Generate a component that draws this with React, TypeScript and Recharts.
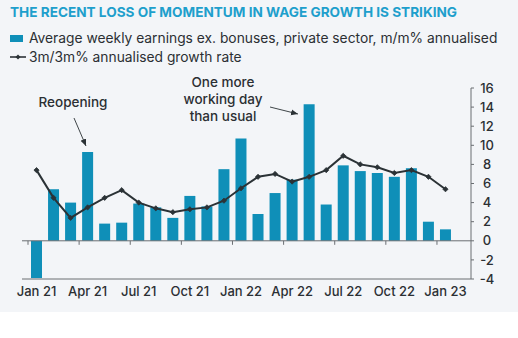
import { ComposedChart, Bar, Line, XAxis, YAxis, ReferenceLine } from 'recharts'

const MONTHS = [
  'Jan 21', 'Feb 21', 'Mar 21', 'Apr 21', 'May 21', 'Jun 21', 'Jul 21', 'Aug 21', 'Sep 21',
  'Oct 21', 'Nov 21', 'Dec 21', 'Jan 22', 'Feb 22', 'Mar 22', 'Apr 22', 'May 22', 'Jun 22',
  'Jul 22', 'Aug 22', 'Sep 22', 'Oct 22', 'Nov 22', 'Dec 22', 'Jan 23',
]
const MOM_ANNUALISED = [
  -3.9, 5.4, 4.0, 9.3, 1.8, 1.9, 3.9, 3.5, 2.4, 4.7, 3.6, 7.5, 10.7, 2.8, 5.0, 6.4, 14.3,
  3.8, 7.9, 7.3, 7.1, 6.7, 7.6, 2.0, 1.2,
]
const THREE_M_GROWTH = [
  7.4, 4.5, 2.4, 3.5, 4.5, 5.3, 4.0, 3.4, 3.0, 3.3, 3.5, 4.2, 5.5, 6.7, 7.0, 6.2, 6.7, 7.4,
  8.9, 8.0, 7.7, 7.1, 7.4, 6.7, 5.4,
]
const Y_TICKS = [-4, -2, 0, 2, 4, 6, 8, 10, 12, 14, 16]

const BAR_COLOR = '#0f8fb8'
const LINE_COLOR = '#2b3236'
const AXIS_COLOR = '#6a6e72'
const TEXT_COLOR = '#2b2f33'
const FONT = 'Inter, "Open Sans", sans-serif'

// plot geometry
const W = 518
const H = 310
const M = { top: 88, right: 10, bottom: 11, left: 22 }
const Y_AXIS_W = 37
const X_AXIS_H = 20
const PAD_L = 6
const PAD_R = 17
const plotTop = M.top
const plotBottom = H - M.bottom - X_AXIS_H
const plotW = W - M.left - M.right - Y_AXIS_W
const step = (plotW - PAD_L - PAD_R) / MONTHS.length
const zeroY = plotTop + (16 / 20) * (plotBottom - plotTop)

const data = MONTHS.map((m, i) => ({ m, bar: MOM_ANNUALISED[i], line: THREE_M_GROWTH[i] }))

function XTick({ x, y, payload }: any) {
  const bx = x - step / 2
  return (
    <g>
      <line x1={bx} x2={bx} y1={zeroY} y2={zeroY + 4} stroke={AXIS_COLOR} />
      <text x={x} y={y} dy="0.71em" textAnchor="middle" fontSize={13} fontWeight={500} fill={TEXT_COLOR} fontFamily={FONT}>
        {payload.value}
      </text>
    </g>
  )
}

function YTick({ x, y, payload }: any) {
  return (
    <text x={x + 11} y={y} dy="0.36em" textAnchor="middle" fontSize={13} fontWeight={500} fill={TEXT_COLOR} fontFamily={FONT}>
      {payload.value}
    </text>
  )
}

function Diamond({ cx, cy }: any) {
  if (cx == null || cy == null) return null
  const r = 2.6
  return (
    <polygon
      points={`${cx},${cy - r} ${cx + r},${cy} ${cx},${cy + r} ${cx - r},${cy}`}
      fill={LINE_COLOR}
      stroke={LINE_COLOR}
      strokeWidth={0.8}
    />
  )
}

export default function App() {
  return (
    <div style={{ position: 'absolute', left: 0, top: 0, width: W, height: 338, background: '#fff', fontFamily: FONT }}>
      <div style={{ position: 'absolute', left: 0, top: 0, width: W, height: 312, background: '#f3f5f8' }} />
      <div style={{ position: 'absolute', left: 10, top: 4, fontSize: 13.6, fontWeight: 700, color: '#1e9fcc', whiteSpace: 'nowrap' }}>
        THE RECENT LOSS OF MOMENTUM IN WAGE GROWTH IS STRIKING
      </div>
      <div style={{ position: 'absolute', left: 10, top: 30, fontSize: 13.8, color: TEXT_COLOR, whiteSpace: 'nowrap', display: 'flex', alignItems: 'center' }}>
        <span style={{ display: 'inline-block', width: 13, height: 7, background: BAR_COLOR, marginRight: 6 }} />
        Average weekly earnings ex. bonuses, private sector, m/m% annualised
      </div>
      <div style={{ position: 'absolute', left: 10, top: 49, fontSize: 13.8, color: TEXT_COLOR, whiteSpace: 'nowrap', display: 'flex', alignItems: 'center' }}>
        <svg width={16} height={8} style={{ marginRight: 3 }}>
          <line x1={0} x2={16} y1={4} y2={4} stroke={LINE_COLOR} strokeWidth={1.6} />
          <polygon points="8,1.5 10.5,4 8,6.5 5.5,4" fill={LINE_COLOR} />
        </svg>
        3m/3m% annualised growth rate
      </div>
      <div style={{ position: 'absolute', left: 0, top: 0 }}>
        <ComposedChart width={W} height={H} data={data} margin={M}>
          <XAxis
            dataKey="m"
            interval={2}
            padding={{ left: PAD_L, right: PAD_R }}
            height={X_AXIS_H}
            axisLine={{ stroke: AXIS_COLOR }}
            tickLine={false}
            tick={<XTick />}
          />
          <YAxis
            orientation="right"
            width={Y_AXIS_W}
            domain={[-4, 16]}
            ticks={Y_TICKS}
            interval={0}
            tickSize={3}
            axisLine={{ stroke: AXIS_COLOR }}
            tickLine={{ stroke: AXIS_COLOR }}
            tick={<YTick />}
          />
          <Bar dataKey="bar" fill={BAR_COLOR} barSize={11} isAnimationActive={false} />
          <ReferenceLine y={0} stroke={AXIS_COLOR} />
          <Line
            dataKey="line"
            type="linear"
            stroke={LINE_COLOR}
            strokeWidth={2}
            dot={<Diamond />}
            activeDot={false}
            isAnimationActive={false}
          />
        </ComposedChart>
      </div>
      <svg width={W} height={H} style={{ position: 'absolute', left: 0, top: 0, pointerEvents: 'none' }}>
        <defs>
          <marker id="ah" markerWidth="8" markerHeight="8" refX="7" refY="4" orient="auto" markerUnits="userSpaceOnUse">
            <path d="M0,1 L7,4 L0,7 Z" fill={LINE_COLOR} />
          </marker>
        </defs>
        <g fontFamily={FONT} fontSize={13.5} fontWeight={500} fill={TEXT_COLOR} textAnchor="middle">
          <text x={73} y={107}>Reopening</text>
          <text x={223} y={87}>One more</text>
          <text x={223} y={104}>working day</text>
          <text x={223} y={121}>than usual</text>
        </g>
        <line x1={74} y1={118} x2={86} y2={146} stroke={LINE_COLOR} strokeWidth={0.9} markerEnd="url(#ah)" />
        <line x1={270} y1={107} x2={298} y2={114} stroke={LINE_COLOR} strokeWidth={0.9} markerEnd="url(#ah)" />
      </svg>
    </div>
  )
}
